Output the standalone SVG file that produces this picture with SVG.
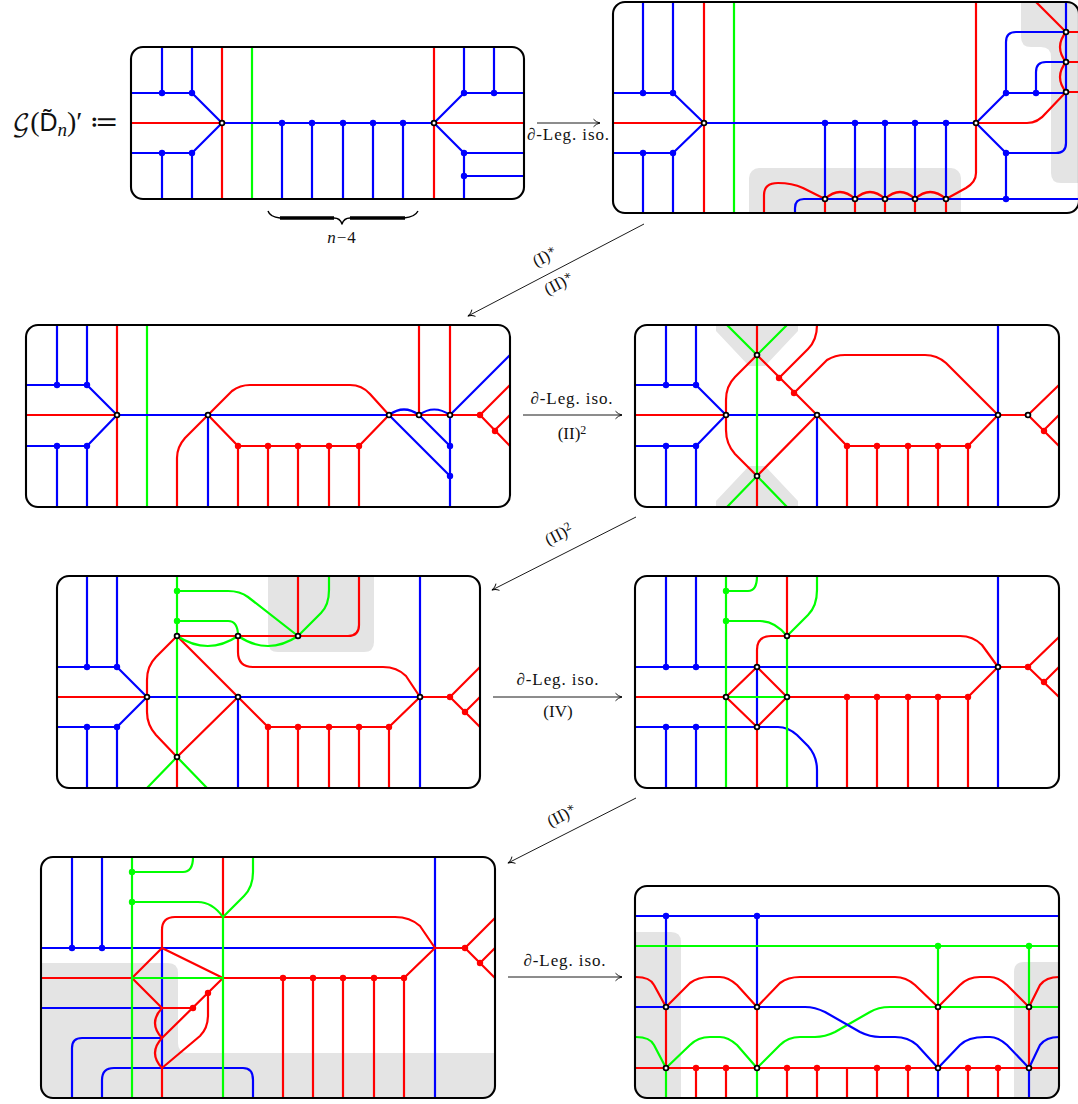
<svg xmlns="http://www.w3.org/2000/svg" width="1078" height="1104" viewBox="0 0 1078 1104">
<style>
path,line{fill:none;stroke-width:2.2;stroke-linecap:butt;stroke-linejoin:round}
.r{stroke:#f00}.g{stroke:#0f0}.b{stroke:#00f}
.f{fill:none;stroke:#000;stroke-width:2.1}
.s{fill:#e4e4e4;stroke:none}
circle{r:3.2px}
.dr{fill:#f00}.dg{fill:#0f0}.db{fill:#00f}
.o{fill:#fff;stroke:#000;stroke-width:1.8;r:2.4px}
.a{stroke:#000;stroke-width:.9}
text{font-family:"Liberation Serif","DejaVu Serif",serif;fill:#111;font-size:17px}
.l{text-anchor:middle}
.w{letter-spacing:.9px}
.sup{font-size:12px}
</style>
<defs>
<marker id="ah" markerUnits="userSpaceOnUse" markerWidth="12" markerHeight="12" refX="9" refY="5" orient="auto"><path d="M2.5 1.2Q5 4.2 9 5Q5 5.8 2.5 8.8" style="stroke:#000;stroke-width:.9"/></marker>
<clipPath id="cA"><rect x="131" y="47" width="393" height="152" rx="12"/></clipPath>
<clipPath id="cB"><rect x="613" y="2" width="466" height="211" rx="12"/></clipPath>
<clipPath id="cC"><rect x="26" y="325" width="484" height="182" rx="12"/></clipPath>
<clipPath id="cD"><rect x="635" y="325" width="424" height="182" rx="12"/></clipPath>
<clipPath id="cE"><rect x="57" y="576" width="423" height="212" rx="12"/></clipPath>
<clipPath id="cF"><rect x="635" y="576" width="424" height="212" rx="12"/></clipPath>
<clipPath id="cG"><rect x="41" y="857" width="454" height="241" rx="12"/></clipPath>
<clipPath id="cH"><rect x="635" y="886" width="424" height="212" rx="12"/></clipPath>
</defs>

<text id="title" x="12" y="131" style="font-size:28px"><tspan style="font-family:'DejaVu Math TeX Gyre','DejaVu Sans',serif;font-size:24px">𝒢</tspan>(<tspan style="font-family:'Liberation Sans',sans-serif;font-size:25px">D̃</tspan><tspan dy="5" style="font-style:italic;font-size:19px">n</tspan><tspan dy="-5">)′ ≔</tspan></text>

<g id="panel-A">
<g clip-path="url(#cA)">
<path class="b" d="M131 93H192L222 123M131 153H192L222 123M162 47V93M192 47V93M162 153V199M192 153V199"/>
<path class="r" d="M131 123H222M222 47V199M434 47V199M434 123H524"/>
<path class="g" d="M252 47V199"/>
<path class="b" d="M222 123H434M282 123V199M312 123V199M343 123V199M373 123V199M403 123V199"/>
<path class="b" d="M434 123L464 93H524M464 47V93M494 47V93M434 123L464 153H524M464 153V199M464 176H524"/>
<circle class="db" cx="162" cy="93" r="3"/><circle class="db" cx="192" cy="93" r="3"/><circle class="db" cx="162" cy="153" r="3"/><circle class="db" cx="192" cy="153" r="3"/>
<circle class="db" cx="282" cy="123" r="3"/><circle class="db" cx="312" cy="123" r="3"/><circle class="db" cx="343" cy="123" r="3"/><circle class="db" cx="373" cy="123" r="3"/><circle class="db" cx="403" cy="123" r="3"/>
<circle class="db" cx="464" cy="93" r="3"/><circle class="db" cx="494" cy="93" r="3"/><circle class="db" cx="464" cy="153" r="3"/><circle class="db" cx="464" cy="176" r="3"/>
<circle class="o" cx="222" cy="123" r="2.3"/><circle class="o" cx="434" cy="123" r="2.3"/>
</g>
<rect class="f" x="131" y="47" width="393" height="152" rx="12"/>
</g>

<g id="brace">
<path style="stroke:#000;stroke-width:1.4" d="M268 211Q270 217 280 218M404 218Q415 217 418 211M334 218Q340 218 342 224Q344 218 350 218"/>
<path style="stroke:#000;stroke-width:3.4" d="M280 218H334M350 218H405"/>
<text class="l" x="342" y="243" style="font-size:17px;letter-spacing:1px"><tspan font-style="italic">n</tspan>−4</text>
</g>

<g id="panel-B">
<g clip-path="url(#cB)">
<rect class="s" x="749" y="168" width="212" height="60" rx="10"/>
<path class="s" d="M1021 0H1080V183H1061Q1051 183 1051 173V57Q1051 47 1041 47H1031Q1021 47 1021 37Z"/>
<path class="b" d="M613 93H673L704 123M613 153H673L704 123M643 2V93M673 2V93M643 153V213M673 153V213"/>
<path class="r" d="M613 123H704M704 2V213"/>
<path class="g" d="M734 2V213"/>
<path class="b" d="M704 123H976M825 123V199M855 123V199M885 123V199M915 123V199M946 123V199"/>
<path class="r" d="M976 2V173Q976 182 966 188L946 199M976 123H1027Q1038 123 1046 113L1066 92"/>
<path class="r" d="M764 213V195Q764 183 778 183Q792 183 803 188L825 199Q840 185 855 199Q870 185 885 199Q900 185 915 199Q930 185 946 199"/>
<path class="r" d="M825 199V213M855 199V213M885 199V213M915 199V213M946 199V213"/>
<path class="b" d="M795 213V208Q795 199 804 199H1079M976 123L1006 93H1066M976 123L1006 153H1056Q1066 153 1066 143V2M1006 153V199"/>
<path class="b" d="M1066 32H1016Q1006 32 1006 42V93M1066 62H1046Q1036 62 1036 72V93"/>
<path class="r" d="M1036 2L1066 32H1079M1066 62H1079M1066 92H1079M1066 32Q1054 47 1066 62Q1054 77 1066 92"/>
<circle class="db" cx="643" cy="93" r="3"/><circle class="db" cx="673" cy="93" r="3"/><circle class="db" cx="643" cy="153" r="3"/><circle class="db" cx="673" cy="153" r="3"/>
<circle class="db" cx="825" cy="123" r="3"/><circle class="db" cx="855" cy="123" r="3"/><circle class="db" cx="885" cy="123" r="3"/><circle class="db" cx="915" cy="123" r="3"/><circle class="db" cx="946" cy="123" r="3"/>
<circle class="db" cx="1006" cy="93" r="3"/><circle class="db" cx="1036" cy="93" r="3"/><circle class="db" cx="1006" cy="153" r="3"/><circle class="db" cx="1006" cy="199" r="3"/>
<circle class="o" cx="704" cy="123" r="2.3"/><circle class="o" cx="976" cy="123" r="2.3"/>
<circle class="o" cx="825" cy="199" r="2.3"/><circle class="o" cx="855" cy="199" r="2.3"/><circle class="o" cx="885" cy="199" r="2.3"/><circle class="o" cx="915" cy="199" r="2.3"/><circle class="o" cx="946" cy="199" r="2.3"/>
<circle class="o" cx="1066" cy="32" r="2.3"/><circle class="o" cx="1066" cy="62" r="2.3"/><circle class="o" cx="1066" cy="92" r="2.3"/>
</g>
<rect class="f" x="613" y="2" width="466" height="211" rx="12"/>
</g>

<g id="panel-C">
<g clip-path="url(#cC)">
<path class="b" d="M26 385H87L117 415M26 446H87L117 415M57 325V385M87 325V385M57 446V507M87 446V507"/>
<path class="r" d="M26 415H117M117 325V507"/>
<path class="g" d="M147 325V507"/>
<path class="r" d="M177 507V458Q177 447 185 438L208 415L232 391Q240 385 250 385H350Q362 385 370 394L389 415"/>
<path class="r" d="M208 415L238 446H359L389 415M238 446V507M268 446V507M298 446V507M329 446V507M359 446V507"/>
<path class="r" d="M389 415H480M419 325V415M450 325V415M480 415L510 385M480 415L510 446M495 430L510 415"/>
<path class="b" d="M117 415H389M208 415V507M389 415L450 476M419 415L450 446M450 415V507M450 415L510 355"/>
<path class="b" d="M389 415Q404 404 419 415Q434 404 450 415"/>
<circle class="db" cx="57" cy="385" r="3"/><circle class="db" cx="87" cy="385" r="3"/><circle class="db" cx="57" cy="446" r="3"/><circle class="db" cx="87" cy="446" r="3"/>
<circle class="dr" cx="238" cy="446" r="3"/><circle class="dr" cx="268" cy="446" r="3"/><circle class="dr" cx="298" cy="446" r="3"/><circle class="dr" cx="329" cy="446" r="3"/><circle class="dr" cx="359" cy="446" r="3"/>
<circle class="db" cx="450" cy="446" r="3"/><circle class="db" cx="450" cy="476" r="3"/><circle class="dr" cx="480" cy="415" r="3"/><circle class="dr" cx="495" cy="431" r="3"/>
<circle class="o" cx="117" cy="415" r="2.3"/><circle class="o" cx="208" cy="415" r="2.3"/><circle class="o" cx="389" cy="415" r="2.3"/><circle class="o" cx="419" cy="415" r="2.3"/><circle class="o" cx="450" cy="415" r="2.3"/>
</g>
<rect class="f" x="26" y="325" width="484" height="182" rx="12"/>
</g>

<g id="panel-D">
<g clip-path="url(#cD)">
<path class="s" d="M716 323H798V331L765 366H749L716 331ZM716 509H798V501L765 466H749L716 501Z"/>
<path class="b" d="M635 385H696L726 415M635 446H696L726 415M666 325V385M696 325V385M666 446V507M696 446V507"/>
<path class="r" d="M635 415H726M757 325V355M757 476V507"/>
<path class="r" d="M757 355L735 377Q726 386 726 400V430Q726 444 735 454L757 476L817 415M757 355L817 415"/>
<path class="r" d="M779 378L808 349Q817 340 817 325M794 393L827 360Q835 355 845 355H925Q937 355 946 363L998 415"/>
<path class="r" d="M817 415L847 446H968L998 415M847 446V507M877 446V507M908 446V507M938 446V507M968 446V507"/>
<path class="b" d="M726 415H998M817 415V507M998 325V507"/>
<path class="g" d="M727 325L757 355L787 325M757 355V476M727 507L757 476L787 507"/>
<path class="r" d="M998 415H1028L1059 385M1028 415L1059 446M1044 430L1059 415"/>
<circle class="db" cx="666" cy="385" r="3"/><circle class="db" cx="696" cy="385" r="3"/><circle class="db" cx="666" cy="446" r="3"/><circle class="db" cx="696" cy="446" r="3"/>
<circle class="dr" cx="779" cy="378" r="3"/><circle class="dr" cx="794" cy="393" r="3"/>
<circle class="dr" cx="847" cy="446" r="3"/><circle class="dr" cx="877" cy="446" r="3"/><circle class="dr" cx="908" cy="446" r="3"/><circle class="dr" cx="938" cy="446" r="3"/><circle class="dr" cx="968" cy="446" r="3"/><circle class="dr" cx="1044" cy="431" r="3"/>
<circle class="o" cx="726" cy="415" r="2.3"/><circle class="o" cx="757" cy="355" r="2.3"/><circle class="o" cx="757" cy="476" r="2.3"/><circle class="o" cx="817" cy="415" r="2.3"/><circle class="o" cx="998" cy="415" r="2.3"/><circle class="o" cx="1028" cy="415" r="2.3"/>
</g>
<rect class="f" x="635" y="325" width="424" height="182" rx="12"/>
</g>

<g id="panel-E">
<g clip-path="url(#cE)">
<path class="s" d="M268 570H374V642Q374 652 364 652H278Q268 652 268 642Z"/>
<path class="b" d="M57 667H117L147 697M57 727H117L147 697M87 576V667M117 576V667M87 727V788M117 727V788"/>
<path class="r" d="M57 697H147"/>
<path class="r" d="M177 636L156 657Q147 666 147 680V712Q147 725 156 735L177 757L238 697L177 636M177 636H348Q359 636 359 625V576M298 576V636M238 636V652Q238 667 253 667H383Q397 667 406 676L420 697"/>
<path class="r" d="M177 757V788M238 697L268 727H389L420 697M268 727V788M298 727V788M329 727V788M359 727V788M389 727V788"/>
<path class="b" d="M147 697H420M238 697V788M420 576V788"/>
<path class="g" d="M177 576V757M147 788L177 757L207 788M177 591H228Q240 591 248 597L298 636L321 613Q329 605 329 590V576M177 621H228Q238 621 238 636Q208 656 177 636M238 636Q268 656 298 636"/>
<path class="r" d="M420 697H450L480 667M450 697L480 727M465 712L480 697"/>
<circle class="db" cx="87" cy="667" r="3"/><circle class="db" cx="117" cy="667" r="3"/><circle class="db" cx="87" cy="727" r="3"/><circle class="db" cx="117" cy="727" r="3"/>
<circle class="dg" cx="177" cy="591" r="3"/><circle class="dg" cx="177" cy="621" r="3"/>
<circle class="dr" cx="268" cy="727" r="3"/><circle class="dr" cx="298" cy="727" r="3"/><circle class="dr" cx="329" cy="727" r="3"/><circle class="dr" cx="359" cy="727" r="3"/><circle class="dr" cx="389" cy="727" r="3"/><circle class="dr" cx="450" cy="697" r="3"/><circle class="dr" cx="465" cy="712" r="3"/>
<circle class="o" cx="147" cy="697" r="2.3"/><circle class="o" cx="177" cy="636" r="2.3"/><circle class="o" cx="238" cy="636" r="2.3"/><circle class="o" cx="298" cy="636" r="2.3"/><circle class="o" cx="238" cy="697" r="2.3"/><circle class="o" cx="177" cy="757" r="2.3"/><circle class="o" cx="420" cy="697" r="2.3"/>
</g>
<rect class="f" x="57" y="576" width="423" height="212" rx="12"/>
</g>

<g id="panel-F">
<g clip-path="url(#cF)">
<path class="b" d="M666 576V667M696 576V667M666 727V788M696 727V788M636 667H998M757 667V727M636 727H778Q788 727 797 735L808 746Q817 756 817 770V788M998 576V788"/>
<path class="r" d="M635 697H726L757 667L787 697L757 727L726 697M787 697H968L998 667M847 697V788M877 697V788M908 697V788M938 697V788M968 697V788M757 727V788M787 576V636"/>
<path class="r" d="M757 667V650Q757 636 771 636H960Q973 636 982 645L998 667"/>
<path class="g" d="M726 576V788M726 591H748Q757 591 757 576M726 621H760Q775 621 787 636V788M787 636L808 615Q817 606 817 590V576M726 697H787"/>
<path class="r" d="M998 667H1028L1059 637M1028 667L1059 697M1044 682L1059 667"/>
<circle class="db" cx="666" cy="667" r="3"/><circle class="db" cx="696" cy="667" r="3"/><circle class="db" cx="666" cy="727" r="3"/><circle class="db" cx="696" cy="727" r="3"/>
<circle class="dg" cx="726" cy="591" r="3"/><circle class="dg" cx="726" cy="621" r="3"/>
<circle class="dr" cx="847" cy="697" r="3"/><circle class="dr" cx="877" cy="697" r="3"/><circle class="dr" cx="908" cy="697" r="3"/><circle class="dr" cx="938" cy="697" r="3"/><circle class="dr" cx="968" cy="697" r="3"/><circle class="dr" cx="1028" cy="667" r="3"/><circle class="dr" cx="1044" cy="682" r="3"/>
<circle class="o" cx="757" cy="667" r="2.3"/><circle class="o" cx="726" cy="697" r="2.3"/><circle class="o" cx="787" cy="697" r="2.3"/><circle class="o" cx="757" cy="727" r="2.3"/><circle class="o" cx="787" cy="636" r="2.3"/><circle class="o" cx="998" cy="667" r="2.3"/>
</g>
<rect class="f" x="635" y="576" width="424" height="212" rx="12"/>
</g>

<g id="panel-G">
<g clip-path="url(#cG)">
<path class="s" d="M41 963H168Q178 963 178 973V1043Q178 1053 188 1053H495V1098H41Z"/>
<path class="b" d="M41 948H435M72 857V948M102 857V948M41 1008H162M162 948V1068M162 1038H82Q72 1038 72 1048V1098M102 1098V1080Q102 1068 114 1068H243Q253 1068 253 1080V1098M435 857V1098"/>
<path class="r" d="M41 978H132L162 948L223 978M132 978L162 1008H193M223 978L162 1038M208 993V1015Q208 1028 200 1036L162 1068V1098M162 1008Q148 1023 162 1038Q148 1053 162 1068"/>
<path class="r" d="M223 857V917M162 948V930Q162 917 175 917H395Q410 917 420 926L435 948M223 978H404L435 948M283 978V1098M313 978V1098M343 978V1098M374 978V1098M404 978V1098"/>
<path class="g" d="M132 857V1098M132 872H183Q193 872 193 857M132 902H198Q212 902 223 917V1098M223 917L244 896Q253 887 253 872V857M132 978H223"/>
<path class="r" d="M435 948H465L495 918M465 948L495 978M480 963L495 948"/>
<circle class="db" cx="72" cy="948" r="3"/><circle class="db" cx="102" cy="948" r="3"/>
<circle class="dg" cx="132" cy="872" r="3"/><circle class="dg" cx="132" cy="902" r="3"/>
<circle class="dr" cx="193" cy="1008" r="3"/><circle class="dr" cx="208" cy="993" r="3"/>
<circle class="dr" cx="283" cy="978" r="3"/><circle class="dr" cx="313" cy="978" r="3"/><circle class="dr" cx="343" cy="978" r="3"/><circle class="dr" cx="374" cy="978" r="3"/><circle class="dr" cx="404" cy="978" r="3"/><circle class="dr" cx="465" cy="948" r="3"/><circle class="dr" cx="480" cy="963" r="3"/>
</g>
<rect class="f" x="41" y="857" width="454" height="241" rx="12"/>
</g>

<g id="panel-H">
<g clip-path="url(#cH)">
<path class="s" d="M635 932H671Q681 932 681 942V1098H635ZM1059 962H1024Q1014 962 1014 972V1098H1059Z"/>
<path class="b" d="M636 916H1059M666 916V1007M757 916V1007"/>
<path class="g" d="M636 946H1059M938 946V1007M1029 946V1007"/>
<path class="r" d="M636 977Q650 977 654 985L666 1007L690 983Q698 977 710 977H720Q728 977 737 985L757 1007L780 983Q788 977 800 977H895Q906 977 915 985L938 1007L960 985Q968 977 980 977H990Q998 977 1007 985L1029 1007L1040 985Q1046 977 1059 977"/>
<path class="r" d="M666 1007V1068M757 1007V1068M938 1007V1068M1029 1007V1068M636 1068H1059M696 1068V1098M726 1068V1098M787 1068V1098M817 1068V1098M847 1068V1098M877 1068V1098M908 1068V1098M968 1068V1098M998 1068V1098"/>
<path class="g" d="M636 1037Q650 1037 654 1045L666 1068L690 1045Q698 1037 710 1037H720Q728 1037 737 1045L757 1068L780 1045Q788 1037 800 1037H815Q825 1037 835 1032L870 1012Q878 1007 890 1007H1059M666 1068V1098M757 1068V1098"/>
<path class="b" d="M636 1007H805Q815 1007 825 1012L860 1032Q870 1037 880 1037H895Q908 1037 917 1045L938 1068L960 1045Q968 1037 985 1037H990Q998 1037 1007 1045L1029 1068L1040 1045Q1046 1037 1059 1037M938 1068V1098M1029 1068V1098"/>
<circle class="db" cx="666" cy="916" r="3"/><circle class="db" cx="757" cy="916" r="3"/><circle class="dg" cx="938" cy="946" r="3"/><circle class="dg" cx="1029" cy="946" r="3"/>
<circle class="dr" cx="696" cy="1068" r="3"/><circle class="dr" cx="726" cy="1068" r="3"/><circle class="dr" cx="787" cy="1068" r="3"/><circle class="dr" cx="817" cy="1068" r="3"/><circle class="dr" cx="877" cy="1068" r="3"/><circle class="dr" cx="908" cy="1068" r="3"/><circle class="dr" cx="968" cy="1068" r="3"/><circle class="dr" cx="998" cy="1068" r="3"/>
<circle class="o" cx="666" cy="1007" r="2.3"/><circle class="o" cx="757" cy="1007" r="2.3"/><circle class="o" cx="938" cy="1007" r="2.3"/><circle class="o" cx="1029" cy="1007" r="2.3"/>
<circle class="o" cx="666" cy="1068" r="2.3"/><circle class="o" cx="757" cy="1068" r="2.3"/><circle class="o" cx="938" cy="1068" r="2.3"/><circle class="o" cx="1029" cy="1068" r="2.3"/>
</g>
<rect class="f" x="635" y="886" width="424" height="212" rx="12"/>
</g>

<g id="connectors">
<line class="a" x1="537" y1="123" x2="600" y2="123" marker-end="url(#ah)"/>
<line class="a" x1="644" y1="224" x2="468" y2="316" marker-end="url(#ah)"/>
<line class="a" x1="523" y1="415" x2="622" y2="415" marker-end="url(#ah)"/>
<line class="a" x1="636" y1="517" x2="492" y2="590" marker-end="url(#ah)"/>
<line class="a" x1="493" y1="697" x2="622" y2="697" marker-end="url(#ah)"/>
<line class="a" x1="636" y1="798" x2="508" y2="863" marker-end="url(#ah)"/>
<line class="a" x1="508" y1="977" x2="622" y2="977" marker-end="url(#ah)"/>
<text class="l w" x="568.5" y="140"><tspan font-style="italic">∂</tspan>-Leg. iso.</text>
<text class="l" x="545" y="262" transform="rotate(-27.5 545 257)">(I)<tspan class="sup" dy="-5">∗</tspan></text>
<text class="l" x="559" y="289" transform="rotate(-27.5 559 284)">(II)<tspan class="sup" dy="-5">∗</tspan></text>
<text class="l w" x="572" y="404"><tspan font-style="italic">∂</tspan>-Leg. iso.</text>
<text class="l" x="572" y="439">(II)<tspan class="sup" dy="-5">2</tspan></text>
<text class="l" x="559" y="540" transform="rotate(-27.5 559 535)">(II)<tspan class="sup" dy="-5">2</tspan></text>
<text class="l w" x="558" y="685"><tspan font-style="italic">∂</tspan>-Leg. iso.</text>
<text class="l" x="558" y="717">(IV)</text>
<text class="l" x="562" y="821" transform="rotate(-27.5 562 816)">(II)<tspan class="sup" dy="-5">∗</tspan></text>
<text class="l w" x="565" y="966"><tspan font-style="italic">∂</tspan>-Leg. iso.</text>
</g>
</svg>
